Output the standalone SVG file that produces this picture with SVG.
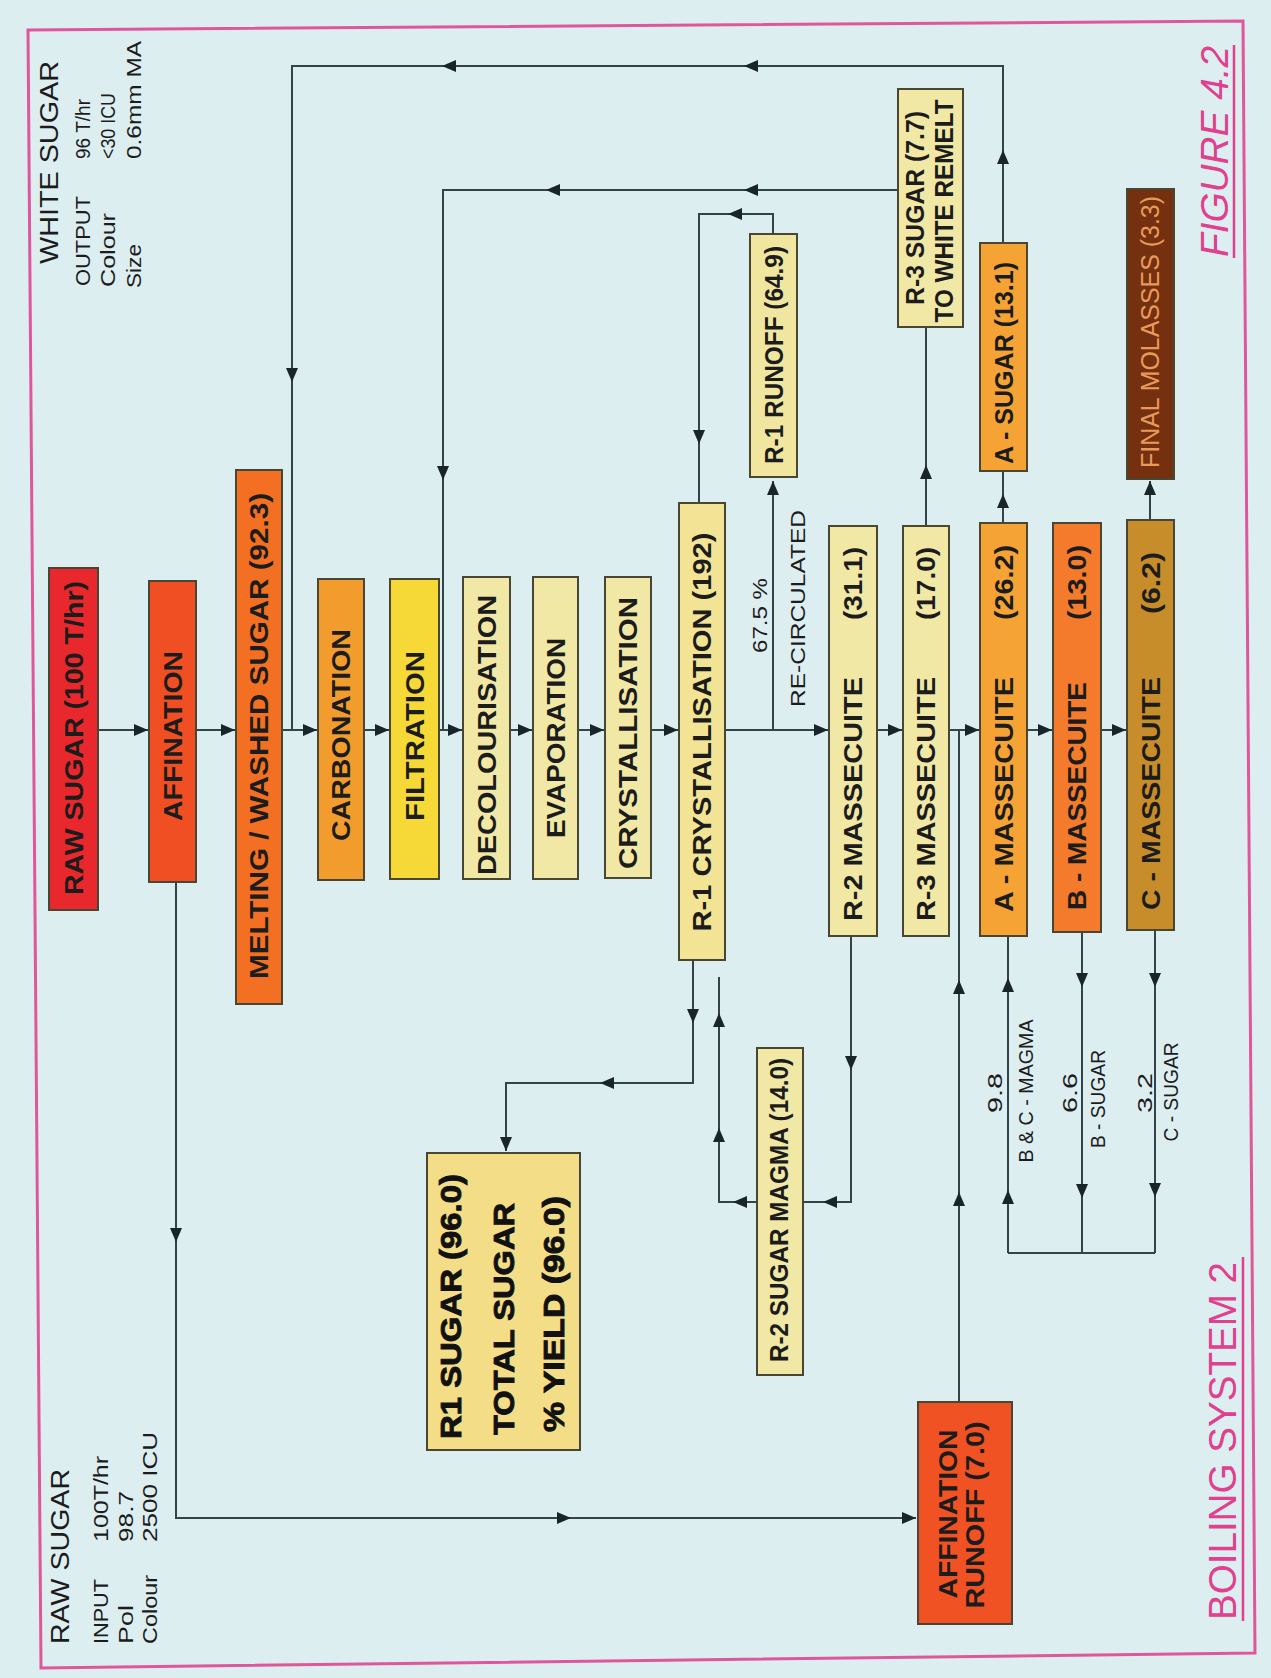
<svg xmlns="http://www.w3.org/2000/svg" width="1271" height="1678" viewBox="0 0 1271 1678">
<defs>
<style>
.box{stroke:#4a4634;stroke-width:2}
.lbl{font-family:"Liberation Sans",Arial,sans-serif;font-weight:bold;font-size:25px;fill:#1c1c1c}
.sm{font-family:"Liberation Sans",Arial,sans-serif;font-size:21px;fill:#1c1c1c}
.hd{font-family:"Liberation Sans",Arial,sans-serif;font-size:25px;fill:#1c1c1c}
.pk{font-family:"Liberation Sans",Arial,sans-serif;font-size:38px;fill:#e0408e}
.hv{font-family:"Liberation Sans",Arial,sans-serif;font-weight:bold;font-size:30px;fill:#111;stroke:#111;stroke-width:0.9}
#connectors path{fill:none;stroke:#33434a;stroke-width:2}
#connectors path.a{marker-end:url(#ah)}
</style>
<marker id="ah" viewBox="0 0 14 12" refX="14" refY="6" markerWidth="14" markerHeight="12" markerUnits="userSpaceOnUse" orient="auto">
<path d="M0,0 L14,6 L0,12 z" fill="#1a252b"/>
</marker>
</defs>
<rect x="0" y="0" width="1271" height="1678" fill="#ddeef1"/>
<path d="M28,30 L1243,21 L1255,1653 L41,1668 Z" fill="none" stroke="#e0569a" stroke-width="3"/>

<!-- free texts -->
<g id="white-sugar-info">
<text class="hd" transform="translate(58,264) rotate(-90)" textLength="203" lengthAdjust="spacingAndGlyphs">WHITE SUGAR</text>
<text class="sm" transform="translate(90,286) rotate(-90)" textLength="90" lengthAdjust="spacingAndGlyphs">OUTPUT</text>
<text class="sm" transform="translate(115,287) rotate(-90)" textLength="74" lengthAdjust="spacingAndGlyphs">Colour</text>
<text class="sm" transform="translate(141,288) rotate(-90)" textLength="44" lengthAdjust="spacingAndGlyphs">Size</text>
<text class="sm" font-size="20" transform="translate(90,159) rotate(-90)" textLength="60" lengthAdjust="spacingAndGlyphs">96 T/hr</text>
<text class="sm" font-size="20" transform="translate(115,159) rotate(-90)" textLength="66" lengthAdjust="spacingAndGlyphs">&lt;30 ICU</text>
<text class="sm" transform="translate(141,159) rotate(-90)" textLength="118" lengthAdjust="spacingAndGlyphs">0.6mm MA</text>
</g>
<g id="raw-sugar-info">
<text class="hd" transform="translate(69,1644) rotate(-90)" textLength="175" lengthAdjust="spacingAndGlyphs">RAW SUGAR</text>
<text class="sm" transform="translate(108,1644) rotate(-90)" textLength="65" lengthAdjust="spacingAndGlyphs">INPUT</text>
<text class="sm" transform="translate(133,1644) rotate(-90)" textLength="39" lengthAdjust="spacingAndGlyphs">Pol</text>
<text class="sm" transform="translate(157,1644) rotate(-90)" textLength="69" lengthAdjust="spacingAndGlyphs">Colour</text>
<text class="sm" transform="translate(108,1542) rotate(-90)" textLength="86" lengthAdjust="spacingAndGlyphs">100T/hr</text>
<text class="sm" transform="translate(133,1542) rotate(-90)" textLength="51" lengthAdjust="spacingAndGlyphs">98.7</text>
<text class="sm" transform="translate(157,1542) rotate(-90)" textLength="110" lengthAdjust="spacingAndGlyphs">2500 ICU</text>
</g>
<g id="titles">
<text class="pk" font-style="italic" transform="translate(1228,257) rotate(-90)" textLength="211" lengthAdjust="spacingAndGlyphs">FIGURE 4.2</text>
<line x1="1234" y1="45" x2="1234" y2="258" stroke="#e0408e" stroke-width="2.5"/>
<text class="pk" transform="translate(1236,1620) rotate(-90)" textLength="358" lengthAdjust="spacingAndGlyphs">BOILING SYSTEM 2</text>
<line x1="1243" y1="1257" x2="1243" y2="1621" stroke="#e0408e" stroke-width="2.5"/>
</g>

<!-- connectors -->
<g id="connectors">
<path class="a" d="M98,730 H148"/>
<path class="a" d="M196,730 H235"/>
<path class="a" d="M282,730 H317"/>
<path class="a" d="M365,730 H389"/>
<path class="a" d="M439,730 H462"/>
<path class="a" d="M510,730 H532"/>
<path class="a" d="M578,730 H604"/>
<path class="a" d="M651,730 H678"/>
<path class="a" d="M725,730 H828"/>
<path class="a" d="M877,730 H902"/>
<path class="a" d="M949,730 H979"/>
<path class="a" d="M1027,730 H1052"/>
<path class="a" d="M1101,730 H1126"/>
<!-- A-sugar loop -->
<path class="a" d="M1003,243 V150"/>
<path class="a" d="M1003,150 V66 H744"/>
<path class="a" d="M744,66 H442"/>
<path class="a" d="M442,66 H292 V382"/>
<path d="M292,382 V730"/>
<!-- R-3 sugar loop -->
<path class="a" d="M898,190 H744"/>
<path class="a" d="M744,190 H546"/>
<path class="a" d="M546,190 H443 V480"/>
<path d="M443,480 V730"/>
<!-- R-1 runoff loop -->
<path class="a" d="M773,234 V214 H728"/>
<path class="a" d="M728,214 H699 V444"/>
<path d="M699,444 V503"/>
<path class="a" d="M773,730 V481"/>
<!-- massecuite to sugars -->
<path class="a" d="M926,526 V465"/>
<path d="M926,465 V327"/>
<path class="a" d="M1003,523 V494"/>
<path d="M1003,494 V471"/>
<path class="a" d="M1150,520 V481"/>
<!-- affination runoff -->
<path class="a" d="M176,882 V1242"/>
<path class="a" d="M176,1242 V1518 H571"/>
<path class="a" d="M571,1518 H916"/>
<path class="a" d="M959,1402 V1192"/>
<path class="a" d="M959,1192 V980"/>
<path d="M959,980 V730"/>
<!-- R-1 to yield -->
<path class="a" d="M693,960 V1023"/>
<path class="a" d="M693,1023 V1083 H600"/>
<path class="a" d="M600,1083 H506 V1151"/>
<!-- R-2 sugar magma loop -->
<path class="a" d="M851,936 V1070"/>
<path class="a" d="M851,1070 V1202 H823"/>
<path d="M823,1202 H803"/>
<path class="a" d="M757,1202 H733"/>
<path class="a" d="M733,1202 H719 V1128"/>
<path class="a" d="M719,1128 V1013"/>
<path d="M719,1013 V977"/>
<!-- B & C magma -->
<path d="M1008,1253 H1155"/>
<path class="a" d="M1008,1253 V1190"/>
<path class="a" d="M1008,1190 V978"/>
<path d="M1008,978 V936"/>
<path class="a" d="M1082,932 V987"/>
<path class="a" d="M1082,987 V1198"/>
<path d="M1082,1198 V1253"/>
<path class="a" d="M1155,930 V987"/>
<path class="a" d="M1155,987 V1197"/>
<path d="M1155,1197 V1253"/>
</g>

<g id="connector-labels">
<text class="sm" font-size="23" transform="translate(767,653) rotate(-90)" textLength="75" lengthAdjust="spacingAndGlyphs">67.5 %</text>
<text class="sm" font-size="23" transform="translate(805,707) rotate(-90)" textLength="197" lengthAdjust="spacingAndGlyphs">RE-CIRCULATED</text>
<text class="sm" font-size="26" transform="translate(1002,1093) rotate(-90)" text-anchor="middle" textLength="40" lengthAdjust="spacingAndGlyphs">9.8</text>
<text class="sm" font-size="26" transform="translate(1077,1093) rotate(-90)" text-anchor="middle" textLength="40" lengthAdjust="spacingAndGlyphs">6.6</text>
<text class="sm" font-size="26" transform="translate(1152,1093) rotate(-90)" text-anchor="middle" textLength="40" lengthAdjust="spacingAndGlyphs">3.2</text>
<text class="sm" font-size="15" transform="translate(1033,1091) rotate(-90)" text-anchor="middle" textLength="143" lengthAdjust="spacingAndGlyphs">B &amp; C - MAGMA</text>
<text class="sm" font-size="15" transform="translate(1105,1099) rotate(-90)" text-anchor="middle" textLength="98" lengthAdjust="spacingAndGlyphs">B - SUGAR</text>
<text class="sm" font-size="15" transform="translate(1178,1092) rotate(-90)" text-anchor="middle" textLength="99" lengthAdjust="spacingAndGlyphs">C - SUGAR</text>
</g>

<!-- nodes -->
<g id="raw-sugar"><rect class="box" x="49" y="568" width="49" height="342" fill="#e8282c"/>
<text class="lbl" transform="translate(73.5,738) rotate(-90)" y="9" text-anchor="middle" textLength="314" lengthAdjust="spacingAndGlyphs">RAW SUGAR (100 T/hr)</text></g>
<g id="affination"><rect class="box" x="149" y="581" width="47" height="301" fill="#f04e23"/>
<text class="lbl" transform="translate(172.5,736) rotate(-90)" y="9" text-anchor="middle" textLength="170" lengthAdjust="spacingAndGlyphs">AFFINATION</text></g>
<g id="melting"><rect class="box" x="236" y="470" width="46" height="534" fill="#f36f21"/>
<text class="lbl" transform="translate(259,736) rotate(-90)" y="9" text-anchor="middle" textLength="486" lengthAdjust="spacingAndGlyphs">MELTING / WASHED SUGAR (92.3)</text></g>
<g id="carbonation"><rect class="box" x="318" y="579" width="46" height="301" fill="#f39c2e"/>
<text class="lbl" transform="translate(341,735) rotate(-90)" y="9" text-anchor="middle" textLength="212" lengthAdjust="spacingAndGlyphs">CARBONATION</text></g>
<g id="filtration"><rect class="box" x="390" y="579" width="49" height="300" fill="#f6d836"/>
<text class="lbl" transform="translate(414.5,736) rotate(-90)" y="9" text-anchor="middle" textLength="170" lengthAdjust="spacingAndGlyphs">FILTRATION</text></g>
<g id="decolourisation"><rect class="box" x="463" y="577" width="47" height="302" fill="#f1e8a6"/>
<text class="lbl" transform="translate(486.5,735) rotate(-90)" y="9" text-anchor="middle" textLength="280" lengthAdjust="spacingAndGlyphs">DECOLOURISATION</text></g>
<g id="evaporation"><rect class="box" x="533" y="577" width="45" height="302" fill="#f1e8a6"/>
<text class="lbl" transform="translate(555.5,738) rotate(-90)" y="9" text-anchor="middle" textLength="200" lengthAdjust="spacingAndGlyphs">EVAPORATION</text></g>
<g id="crystallisation"><rect class="box" x="605" y="577" width="46" height="301" fill="#f1e8a6"/>
<text class="lbl" transform="translate(628,733) rotate(-90)" y="9" text-anchor="middle" textLength="272" lengthAdjust="spacingAndGlyphs">CRYSTALLISATION</text></g>
<g id="r1-crystallisation"><rect class="box" x="679" y="503" width="46" height="457" fill="#f2e494"/>
<text class="lbl" transform="translate(702,732) rotate(-90)" y="9" text-anchor="middle" textLength="399" lengthAdjust="spacingAndGlyphs">R-1 CRYSTALLISATION (192)</text></g>
<g id="r1-runoff"><rect class="box" x="750" y="234" width="47" height="243" fill="#f0e6a0"/>
<text class="lbl" transform="translate(773.5,355) rotate(-90)" y="9" text-anchor="middle" textLength="218" lengthAdjust="spacingAndGlyphs">R-1 RUNOFF (64.9)</text></g>
<g id="r2-massecuite"><rect class="box" x="829" y="526" width="48" height="410" fill="#f1e8a6"/>
<text class="lbl" transform="translate(853,921) rotate(-90)" y="9"><tspan x="0" textLength="244" lengthAdjust="spacingAndGlyphs">R-2 MASSECUITE</tspan><tspan x="301" textLength="73" lengthAdjust="spacingAndGlyphs">(31.1)</tspan></text></g>
<g id="r3-massecuite"><rect class="box" x="903" y="526" width="46" height="410" fill="#f1e8a6"/>
<text class="lbl" transform="translate(926,921) rotate(-90)" y="9"><tspan x="0" textLength="244" lengthAdjust="spacingAndGlyphs">R-3 MASSECUITE</tspan><tspan x="301" textLength="73" lengthAdjust="spacingAndGlyphs">(17.0)</tspan></text></g>
<g id="a-massecuite"><rect class="box" x="980" y="523" width="47" height="413" fill="#f5a334"/>
<text class="lbl" transform="translate(1003.5,912) rotate(-90)" y="9"><tspan x="0" textLength="235" lengthAdjust="spacingAndGlyphs">A - MASSECUITE</tspan><tspan x="292" textLength="75" lengthAdjust="spacingAndGlyphs">(26.2)</tspan></text></g>
<g id="b-massecuite"><rect class="box" x="1053" y="523" width="48" height="409" fill="#f47b2b"/>
<text class="lbl" transform="translate(1077,910) rotate(-90)" y="9"><tspan x="0" textLength="228" lengthAdjust="spacingAndGlyphs">B - MASSECUITE</tspan><tspan x="290" textLength="75" lengthAdjust="spacingAndGlyphs">(13.0)</tspan></text></g>
<g id="c-massecuite"><rect class="box" x="1127" y="520" width="47" height="410" fill="#c88d2b"/>
<text class="lbl" transform="translate(1150.5,910) rotate(-90)" y="9"><tspan x="0" textLength="233" lengthAdjust="spacingAndGlyphs">C - MASSECUITE</tspan><tspan x="296" textLength="62" lengthAdjust="spacingAndGlyphs">(6.2)</tspan></text></g>
<g id="r3-sugar"><rect class="box" x="898" y="89" width="65" height="238" fill="#f1e8a6"/>
<text class="lbl" font-size="22" transform="translate(924,208) rotate(-90)" text-anchor="middle" textLength="194" lengthAdjust="spacingAndGlyphs">R-3 SUGAR (7.7)</text>
<text class="lbl" font-size="22" transform="translate(953,211) rotate(-90)" text-anchor="middle" textLength="223" lengthAdjust="spacingAndGlyphs">TO WHITE REMELT</text></g>
<g id="a-sugar"><rect class="box" x="980" y="243" width="47" height="228" fill="#f5a334"/>
<text class="lbl" transform="translate(1003.5,363) rotate(-90)" y="9" text-anchor="middle" textLength="202" lengthAdjust="spacingAndGlyphs">A - SUGAR (13.1)</text></g>
<g id="final-molasses"><rect class="box" x="1127" y="189" width="47" height="290" fill="#74300f"/>
<text class="lbl" font-size="22" style="fill:#e89a5a;font-weight:normal" transform="translate(1150.5,332) rotate(-90)" y="8" text-anchor="middle" textLength="272" lengthAdjust="spacingAndGlyphs">FINAL MOLASSES (3.3)</text></g>
<g id="yield"><rect class="box" x="427" y="1153" width="153" height="297" fill="#f3dd86"/>
<text class="hv" transform="translate(461,1439) rotate(-90)" textLength="265" lengthAdjust="spacingAndGlyphs">R1 SUGAR (96.0)</text>
<text class="hv" transform="translate(514,1435) rotate(-90)" textLength="232" lengthAdjust="spacingAndGlyphs">TOTAL SUGAR</text>
<text class="hv" transform="translate(564,1432) rotate(-90)" textLength="236" lengthAdjust="spacingAndGlyphs">% YIELD (96.0)</text></g>
<g id="r2-sugar-magma"><rect class="box" x="757" y="1048" width="46" height="327" fill="#f1e8a6"/>
<text class="lbl" font-size="23" transform="translate(780,1210) rotate(-90)" y="8" text-anchor="middle" textLength="304" lengthAdjust="spacingAndGlyphs">R-2 SUGAR MAGMA (14.0)</text></g>
<g id="affination-runoff"><rect class="box" x="918" y="1402" width="94" height="222" fill="#f15223"/>
<text class="lbl" transform="translate(957,1514) rotate(-90)" text-anchor="middle" textLength="169" lengthAdjust="spacingAndGlyphs">AFFINATION</text>
<text class="lbl" transform="translate(984,1515) rotate(-90)" text-anchor="middle" textLength="187" lengthAdjust="spacingAndGlyphs">RUNOFF (7.0)</text></g>
</svg>
